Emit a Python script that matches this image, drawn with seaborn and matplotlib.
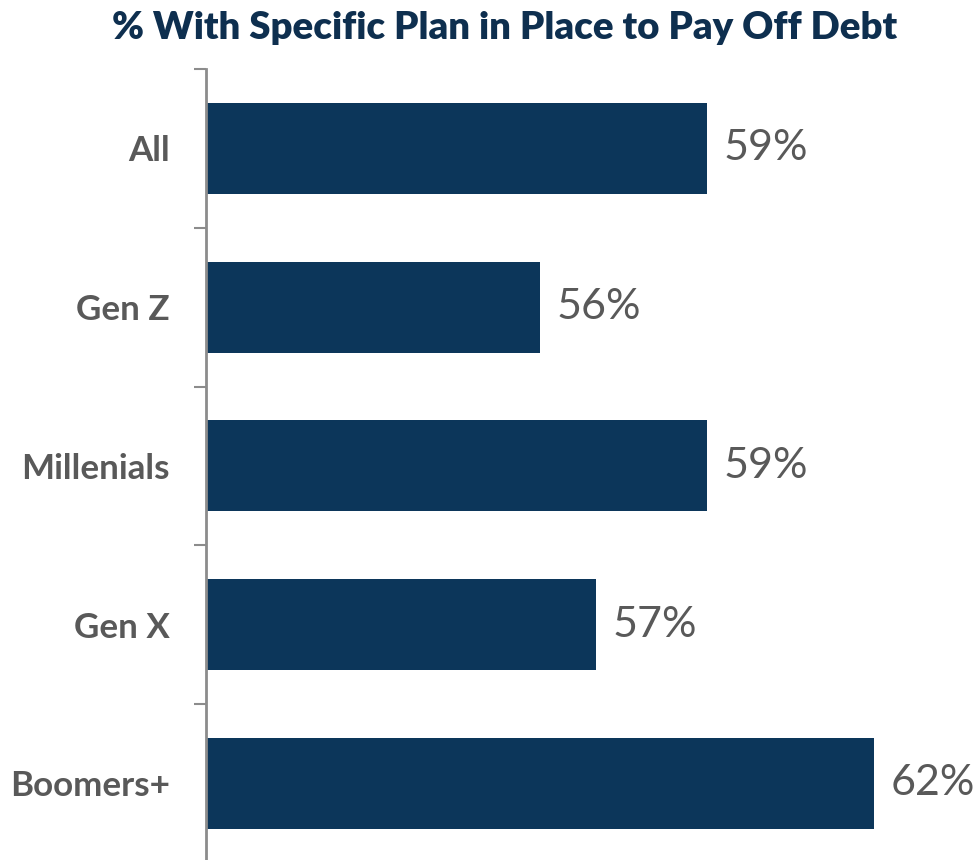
import matplotlib
matplotlib.use("Agg")
import matplotlib.pyplot as plt
import seaborn as sns
import pandas as pd
import numpy as np

categories = ["All", "Gen Z", "Millenials", "Gen X", "Boomers+"]
values = [59, 56, 59, 57, 62]
value_labels = ["59%", "56%", "59%", "57%", "62%"]
title = "% With Specific Plan in Place to Pay Off Debt"

sns.set_theme(style="white")
plt.rcParams["font.family"] = ["Lato", "DejaVu Sans"]

W, H = 978, 860
fig = plt.figure(figsize=(W / 100, H / 100), dpi=100)

# axes placed in pixel terms
left_px, top_px = 206, 69
row_px = 158.75
x0, x1 = 50, 63.6
px_per_unit = 55.67
ax_w = (x1 - x0) * px_per_unit
ax_h = row_px * len(categories)
ax = fig.add_axes([left_px / W, 1 - (top_px + ax_h) / H, ax_w / W, ax_h / H])

df = pd.DataFrame({"group": categories, "pct": values})
sns.barplot(data=df, x="pct", y="group", orient="h", color="#0c365a",
            width=0.573, saturation=1, ax=ax, order=categories)
for p in ax.patches:
    p.set_linewidth(0)

ax.set_xlim(x0, x1)
ax.set_ylim(len(categories) - 0.5, -0.5)
ax.set_xlabel("")
ax.set_ylabel("")
ax.set_xticks([])

for s in ["top", "right", "bottom"]:
    ax.spines[s].set_visible(False)
ax.spines["left"].set_color("#8c8c8c")
ax.spines["left"].set_linewidth(2)
ax.spines["left"].set_clip_on(False)

ax.set_yticks(np.arange(len(categories)))
ax.set_yticklabels(categories, fontsize=25.2, fontweight="bold", color="#595959")
ax.set_yticks(np.arange(-0.5, len(categories) + 0.5, 1), minor=True)
ax.tick_params(axis="y", which="major", length=0, pad=26)
ax.tick_params(axis="y", which="minor", length=8.6, width=1.5, color="#8c8c8c", left=True)

for i, (v, lab) in enumerate(zip(values, value_labels)):
    ax.text(v + 17 / px_per_unit, i, lab, ha="left", va="center",
            fontsize=31, color="#595959")

fig.text(505 / W, 1 - 28 / H, title, ha="center", va="center",
         fontsize=27.6, fontweight="heavy", color="#0e2f4f")

fig.savefig("out.png", dpi=100)
